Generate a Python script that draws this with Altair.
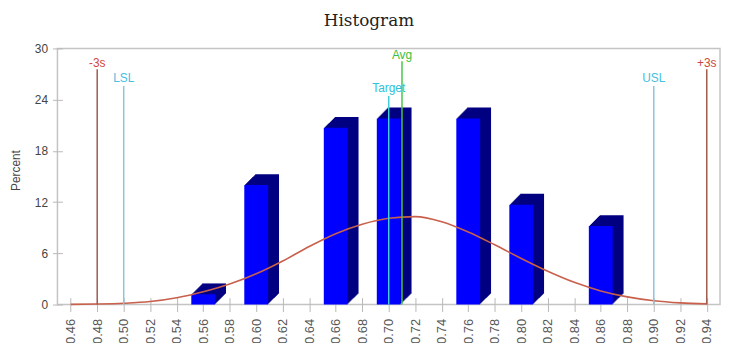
import altair as alt
import pandas as pd

# ---------------- data ----------------
bin_centers = [0.56, 0.60, 0.66, 0.70, 0.76, 0.80, 0.86]
bin_percent = [1.2, 14.0, 20.7, 21.8, 21.8, 11.7, 9.2]

curve_x = [0.46, 0.48, 0.50, 0.52, 0.54, 0.56, 0.58, 0.60, 0.62, 0.64, 0.66, 0.68,
           0.70, 0.72, 0.74, 0.76, 0.78, 0.80, 0.82, 0.84, 0.86, 0.88, 0.90, 0.92, 0.94]
curve_y = [0.02, 0.06, 0.15, 0.35, 0.8, 1.5, 2.4, 3.6, 5.1, 6.8, 8.3, 9.4,
           10.1, 10.3, 9.7, 8.5, 7.0, 5.4, 3.9, 2.6, 1.6, 0.9, 0.45, 0.2, 0.08]

ref_names = ["-3s", "LSL", "Target", "Avg", "USL", "+3s"]
ref_values = [0.48, 0.50, 0.70, 0.71, 0.90, 0.94]

x_ticks = [0.46, 0.48, 0.50, 0.52, 0.54, 0.56, 0.58, 0.60, 0.62, 0.64, 0.66, 0.68,
           0.70, 0.72, 0.74, 0.76, 0.78, 0.80, 0.82, 0.84, 0.86, 0.88, 0.90, 0.92, 0.94]
y_ticks = [0, 6, 12, 18, 24, 30]

chart_title = ["Histogram"]

# ---------------- styles / layout ----------------
ref_line_colors = ["#a05a4c", "#8cc4dc", "#40d0d8", "#44c844", "#8cc4dc", "#a05a4c"]
ref_text_colors = ["#d0483a", "#48c0e0", "#30c0d8", "#3cc03c", "#48c0e0", "#d0483a"]
ref_line_top_px = [21, 38, 48, 13, 38, 21]
ref_label_px = [15, 30, 40, 7, 30, 15]

W, H = 670, 259
HALF = 0.009
DEPTH = 11

bars = pd.DataFrame({"center": bin_centers, "pct": bin_percent})
bars["x0"] = bars["center"] - HALF
bars["x1"] = bars["center"] + HALF

curve = pd.DataFrame({"x": curve_x, "y": curve_y})

refs = pd.DataFrame({
    "name": ref_names, "value": ref_values,
    "lc": ref_line_colors, "tc": ref_text_colors,
    "top": ref_line_top_px, "ty": ref_label_px,
})

title_df = pd.DataFrame({"t": chart_title})

xscale = alt.Scale(domain=[0.45, 0.95], nice=False, zero=False)
yscale = alt.Scale(domain=[0, 30], nice=False)

x_axis = alt.Axis(values=x_ticks, format=".2f", labelAngle=270, domain=False, grid=False,
                  offset=-7, tickSize=14, tickColor="#b8b8b8", labelPadding=7,
                  labelFontSize=13, labelColor="#555555", labelFont="Liberation Sans",
                  title=None, labelOverlap=False, labelBound=False, labelFlush=False)
y_axis = alt.Axis(values=y_ticks, domain=False, grid=False, offset=-5, tickSize=10,
                  tickColor="#b8b8b8", labelPadding=5, labelFontSize=12,
                  labelColor="#444444", labelFont="Liberation Sans",
                  title="Percent", titleFontSize=12, titleFontWeight="normal",
                  titleColor="#444444", titleFont="Liberation Sans", titleX=-40, titleY=123)


def X(field):
    return alt.X(field, scale=xscale, axis=x_axis)


def Y(field):
    return alt.Y(field, scale=yscale, axis=y_axis)


layers = []
base_bars = alt.Chart(bars)
for i in range(DEPTH, 0, -1):
    layers.append(
        base_bars.mark_rect(color="#000080", xOffset=i, x2Offset=i, yOffset=-i, y2Offset=-i)
        .encode(x=X("x0:Q"), x2="x1:Q", y=Y("pct:Q"), y2=alt.datum(0))
    )
layers.append(
    base_bars.mark_rect(color="#0000ff")
    .encode(x=X("x0:Q"), x2="x1:Q", y=Y("pct:Q"), y2=alt.datum(0))
)
layers.append(
    alt.Chart(curve).mark_line(color="#c8604c", strokeWidth=1.6, interpolate="monotone")
    .encode(x=X("x:Q"), y=Y("y:Q"))
)
layers.append(
    alt.Chart(refs).mark_rule(strokeWidth=1.5)
    .encode(x=X("value:Q"), y=alt.Y("top:Q", scale=None),
            y2=alt.value(H), color=alt.Color("lc:N", scale=None))
)
layers.append(
    alt.Chart(refs).mark_text(fontSize=12, font="Liberation Sans", baseline="middle", align="center")
    .encode(x=X("value:Q"), y=alt.Y("ty:Q", scale=None),
            text="name:N", color=alt.Color("tc:N", scale=None))
)
layers.append(
    alt.Chart(title_df).mark_text(font="DejaVu Serif", fontSize=17, color="#222222",
                                  baseline="alphabetic", align="center")
    .encode(x=alt.value(315), y=alt.value(-23), text="t:N")
)

chart = alt.layer(*layers).properties(
    width=W, height=H,
    padding={"left": 50, "top": 39, "right": 2, "bottom": 37},
    autosize=alt.AutoSizeParams(type="none"),
    background="white",
).configure_view(stroke="#c4c4c4", strokeWidth=1.5)

chart.save("out.html", embed_options={"renderer": "svg", "actions": False})
